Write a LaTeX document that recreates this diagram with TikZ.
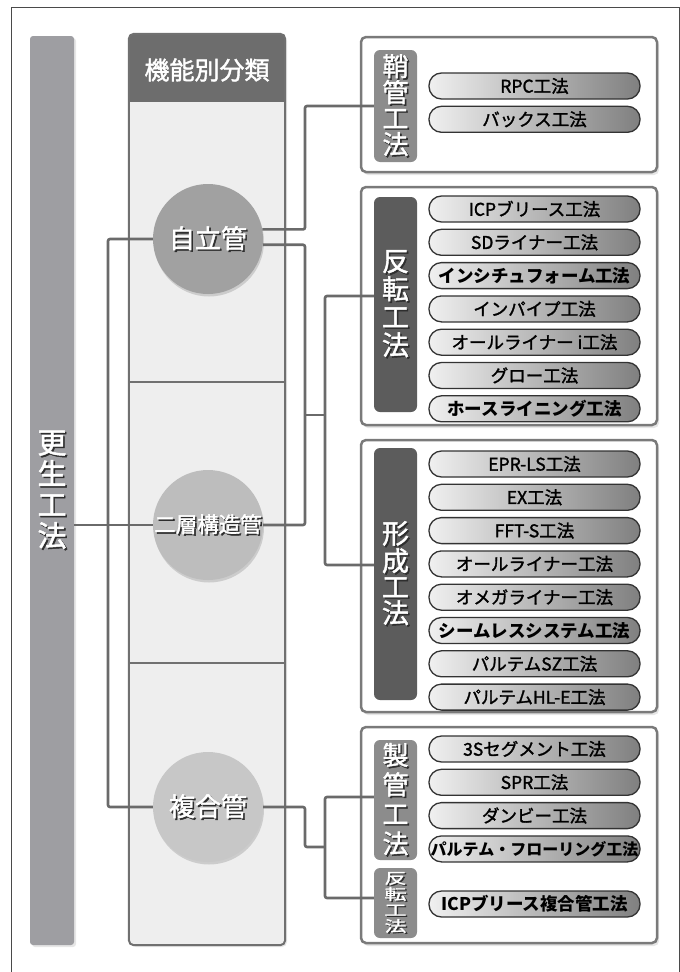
\documentclass[tikz,border=0pt]{standalone}
\usepackage{fontspec}
\usepackage{graphicx}
\setmainfont{Noto Sans CJK JP}
\newfontfamily\gothic{Noto Sans CJK JP}[FakeBold=1.6]
\usetikzlibrary{positioning,shadows}

\definecolor{framegray}{HTML}{4A4A4A}
\definecolor{bargray}{HTML}{9E9EA2}
\definecolor{headgray}{HTML}{6D6D6D}
\definecolor{colfill}{HTML}{EEEEEE}
\definecolor{colborder}{HTML}{707070}
\definecolor{linegray}{HTML}{6A6A6A}
\definecolor{boxborder}{HTML}{7A7A7A}
\definecolor{tablight}{HTML}{8C8C8C}
\definecolor{tabdark}{HTML}{5C5C5C}
\definecolor{txtshadow}{HTML}{2E2E2E}
\definecolor{pillborder}{HTML}{333333}

\newcommand{\emb}[1]{\rlap{\kern1.6pt\raisebox{-1.6pt}{\textcolor{txtshadow}{#1}}}#1}
\newcommand{\squash}[1]{\scalebox{1}[0.68]{#1}}

\begin{document}
\begin{tikzpicture}[
    x=1pt, y=-1pt,
    grbox/.style={draw=boxborder, line width=2.5pt, fill=white, rounded corners=5pt, minimum width=296pt,
        drop shadow={shadow xshift=2pt, shadow yshift=-3pt, opacity=.2}},
    tab/.style={rounded corners=6pt, minimum width=43pt, inner sep=0pt, text=white, align=center,
        font=\gothic\fontsize{26}{26}\selectfont},
    pill/.style={draw=pillborder, line width=1.3pt, rounded corners=12.5pt, minimum width=211pt,
        minimum height=26pt, inner sep=0pt, left color=black!6, right color=black!50, text=black,
        font=\gothic\fontsize{17.5}{17.5}\selectfont},
    pillbold/.style={pill, font=\fontsize{17.5}{17.5}\selectfont\bfseries},
    kind/.style={circle, minimum size=110pt, inner sep=0pt, text=white, font=\gothic\fontsize{26}{26}\selectfont,
        drop shadow={shadow xshift=1pt, shadow yshift=-2.5pt, opacity=.3}},
    conn/.style={draw=linegray, line width=2.6pt, rounded corners=2pt}
]
    \useasboundingbox (0,0) rectangle (680,972);
    \draw[framegray, line width=.8pt] (11,972) |- (679,7) -- (679,972);

    % Left bar
    \node[fill=bargray, rounded corners=3pt, minimum width=44pt, minimum height=909pt, inner sep=0pt,
        text=white, align=center, font=\gothic\fontsize{29}{31}\selectfont,
        drop shadow={shadow xshift=2pt, shadow yshift=-2pt, opacity=.2}] (kosei) at (52,490.5)
        {\emb{更}\\\emb{生}\\\emb{工}\\\emb{法}};

    % Middle column
    \node[fill=colfill, rounded corners=5pt, minimum width=156pt, minimum height=911pt,
        drop shadow={shadow xshift=2pt, shadow yshift=-2pt, opacity=.2}] (bunrui) at (207,489.5) {};
    \begin{scope}
        \clip[rounded corners=5pt] (bunrui.south west) rectangle (bunrui.north east);
        \fill[headgray] (bunrui.north west) rectangle ([yshift=-68pt]bunrui.north east);
    \end{scope}
    \node[text=white, font=\gothic\fontsize{25}{25}\selectfont] (head) at (207,70) {機能別分類};
    \draw[colborder, line width=2pt] (bunrui.west |- 0,382) -- (bunrui.east |- 0,382);
    \draw[colborder, line width=2pt] (bunrui.west |- 0,663) -- (bunrui.east |- 0,663);
    \draw[colborder, line width=2pt, rounded corners=5pt] (bunrui.south west) rectangle (bunrui.north east);

    % Circles
    \node[kind, fill=black!37] (jiritsu) at (208,239) {\emb{自立管}};
    \node[kind, fill=black!26, font=\gothic\fontsize{21.5}{21.5}\selectfont] (nisou) at (208,525) {\emb{二層構造管}};
    \node[kind, fill=black!22] (fukugo) at (208,807) {\emb{複合管}};

    % 鞘管工法
    \node[grbox, minimum height=135pt] (boxsaya) at (509,104.5) {};
    \node[tab, fill=tablight, minimum height=112pt] (tabsaya) at (395.5,106)
        {\emb{鞘}\\\emb{管}\\\emb{工}\\\emb{法}};
    \node[pill] (rpc) at (534.5,86) {RPC工法};
    \node[pill, below=6pt of rpc] (bax) {バックス工法};

    % 反転工法
    \node[grbox, minimum height=238pt] (boxhan) at (509,306) {};
    \node[tab, fill=tabdark, minimum height=215pt, font=\gothic\fontsize{27}{28}\selectfont] (tabhan) at (395.5,304.5)
        {\emb{反}\\\emb{転}\\\emb{工}\\\emb{法}};
    \node[pill] (icp) at (534.5,209) {ICPブリース工法};
    \node[pill, below=6pt of icp] (sd) {SDライナー工法};
    \node[pillbold, below=6pt of sd] (insitu) {インシチュフォーム工法};
    \node[pill, below=6pt of insitu] (inpipe) {インパイプ工法};
    \node[pill, below=6pt of inpipe] (allli) {オールライナー i工法};
    \node[pill, below=6pt of allli] (glo) {グロー工法};
    \node[pillbold, below=6pt of glo] (hose) {ホースライニング工法};

    % 形成工法
    \node[grbox, minimum height=272pt] (boxkei) at (509,576) {};
    \node[tab, fill=tabdark, minimum height=252pt, font=\gothic\fontsize{27}{26}\selectfont] (tabkei) at (395.5,574)
        {\emb{形}\\\emb{成}\\\emb{工}\\\emb{法}};
    \node[pill] (eprls) at (534.5,464) {EPR-LS工法};
    \node[pill, below=6pt of eprls] (ex) {EX工法};
    \node[pill, below=6pt of ex] (ffts) {FFT-S工法};
    \node[pill, below=6pt of ffts] (allliner) {オールライナー工法};
    \node[pill, below=6pt of allliner] (omega) {オメガライナー工法};
    \node[pillbold, below=6pt of omega] (seamless) {シームレスシステム工法};
    \node[pill, below=6pt of seamless] (paltemsz) {パルテムSZ工法};
    \node[pill, below=6pt of paltemsz] (paltemhl) {パルテムHL-E工法};

    % 製管工法・反転工法（複合管）
    \node[grbox, minimum height=216pt] (boxfuku) at (509,835) {};
    \node[tab, fill=tablight, minimum height=120pt, font=\gothic\fontsize{26}{29.5}\selectfont] (tabsei) at (395.5,800)
        {\emb{製}\\\emb{管}\\\emb{工}\\\emb{法}};
    \node[tab, fill=tablight, minimum height=70pt, font=\gothic\fontsize{22}{16}\selectfont] (tabhantwo) at (395.5,903)
        {\squash{\emb{反}}\\\squash{\emb{転}}\\\squash{\emb{工}}\\\squash{\emb{法}}};
    \node[pill] (threes) at (534.5,749) {3Sセグメント工法};
    \node[pill, below=6pt of threes] (spr) {SPR工法};
    \node[pill, below=6pt of spr] (danby) {ダンビー工法};
    \node[pillbold, font=\fontsize{16}{16}\selectfont\bfseries, below=6pt of danby] (flooring) {パルテム・フローリング工法};
    \node[pillbold] (icpfuku) at (534.5,904) {ICPブリース複合管工法};

    % Connectors
    \coordinate (lbus) at (108,524);
    \coordinate (mbus) at (305,415);
    \coordinate (rbus) at (325,415);
    \coordinate (fjog) at (305,847);
    \coordinate (fbus) at (325,847);
    \draw[conn] (kosei.east |- nisou.west) -- (nisou.west);
    \draw[conn] (jiritsu.west) -| (lbus) |- (fukugo.west);
    \draw[conn] (jiritsu.10) -| (mbus |- tabsaya.west) -- (tabsaya.west);
    \draw[conn] (jiritsu.-6) -| (mbus |- nisou.east) -- (nisou.east);
    \draw[conn] (mbus) -- (rbus);
    \draw[conn] (tabhan.west |- 0,296) -| (rbus) |- (tabkei.west |- 0,565);
    \draw[conn] (fukugo.east) -| (fjog) -- (fbus);
    \draw[conn] (tabsei.west |- 0,797) -| (fbus) |- (tabhantwo.west |- 0,898);

\end{tikzpicture}
\end{document}
